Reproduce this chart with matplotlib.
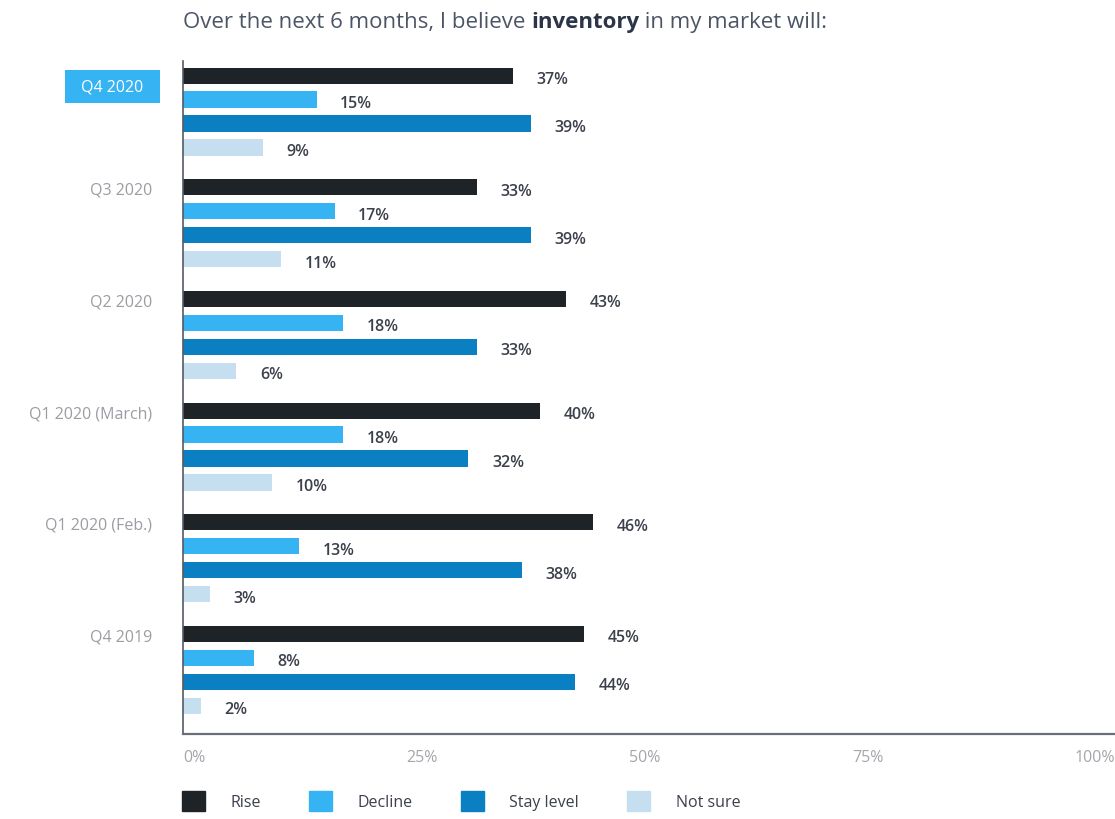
import matplotlib.pyplot as plt
import numpy as np
from matplotlib.patches import Patch

plt.rcParams["font.family"] = ["Open Sans", "DejaVu Sans"]

periods = ["Q4 2020", "Q3 2020", "Q2 2020", "Q1 2020 (March)", "Q1 2020 (Feb.)", "Q4 2019"]
series = ["Rise", "Decline", "Stay level", "Not sure"]
rise = [37, 33, 43, 40, 46, 45]
decline = [15, 17, 18, 18, 13, 8]
stay_level = [39, 39, 33, 32, 38, 44]
not_sure = [9, 11, 6, 10, 3, 2]
x_ticks = [0, 25, 50, 75, 100]

colors = ["#1e2328", "#36b3f3", "#0a7fc1", "#c5dff1"]
values = [rise, decline, stay_level, not_sure]

GROUP_STEP = 4.67
BAR_H = 0.68

fig = plt.figure(figsize=(11.15, 8.2), dpi=100)
ax = fig.add_axes([0.164, 0.104, 0.836, 0.82])

for j, (name, vals, c) in enumerate(zip(series, values, colors)):
    y = np.arange(len(periods)) * GROUP_STEP + j
    ax.barh(y, vals, height=BAR_H, color=c, label=name)
    for yi, v in zip(y, vals):
        ax.annotate(f"{v}%", (v, yi), xytext=(17, -2.5), textcoords="offset points",
                    ha="left", va="center", fontsize=11.5, fontweight="semibold",
                    color="#3b404b")

# category labels sit level with the first bar of each group
for i, p in enumerate(periods):
    yc = i * GROUP_STEP
    if i == 0:
        ax.annotate("\u2002" + p + "\u2002", (0, yc + 0.45), xytext=(-22.5, 0),
                    textcoords="offset points", ha="right", va="center",
                    fontsize=11.5, color="white",
                    bbox=dict(boxstyle="square,pad=0.55", fc="#36b3f3", ec="none"))
    else:
        ax.annotate(p, (0, yc + 0.1), xytext=(-22, 0), textcoords="offset points",
                    ha="right", va="center", fontsize=11.5, color="#9a9da3")

ax.set_xlim(0, 104.5)
ax.set_ylim(5 * GROUP_STEP + 3 + 1.17, -0.6)
ax.set_xticks(x_ticks)
ax.set_xticklabels([f"{t}%" for t in x_ticks], fontsize=11.5, color="#a3a6ab", ha="left")
ax.tick_params(axis="x", length=0, pad=11)
ax.set_yticks([])
for s in ["top", "right"]:
    ax.spines[s].set_visible(False)
ax.spines["left"].set_color("#555a63")
ax.spines["bottom"].set_color("#6b7078")
ax.spines["left"].set_linewidth(1.2)
ax.spines["bottom"].set_linewidth(1.6)

handles = [Patch(color=c, label=s) for s, c in zip(series, colors)]
fig.legend(handles=handles, loc="lower left", bbox_to_anchor=(0.150, -0.008),
           ncol=4, frameon=False, fontsize=11.5, handlelength=1.45, handleheight=1.6,
           handletextpad=1.6, columnspacing=3.0, labelcolor="#3b404b")

t1 = fig.text(0.164, 0.973, "Over the next 6 months, I believe ", fontsize=16,
              color="#4c5566", va="center", ha="left")
t2 = ax.annotate("inventory", xy=(1, 0), xycoords=t1, va="bottom", ha="left",
                 fontsize=16, fontweight="bold", color="#2c3448")
ax.annotate(" in my market will:", xy=(1, 0), xycoords=t2, va="bottom", ha="left",
            fontsize=16, color="#4c5566")

fig.savefig("out.png", dpi=100)
